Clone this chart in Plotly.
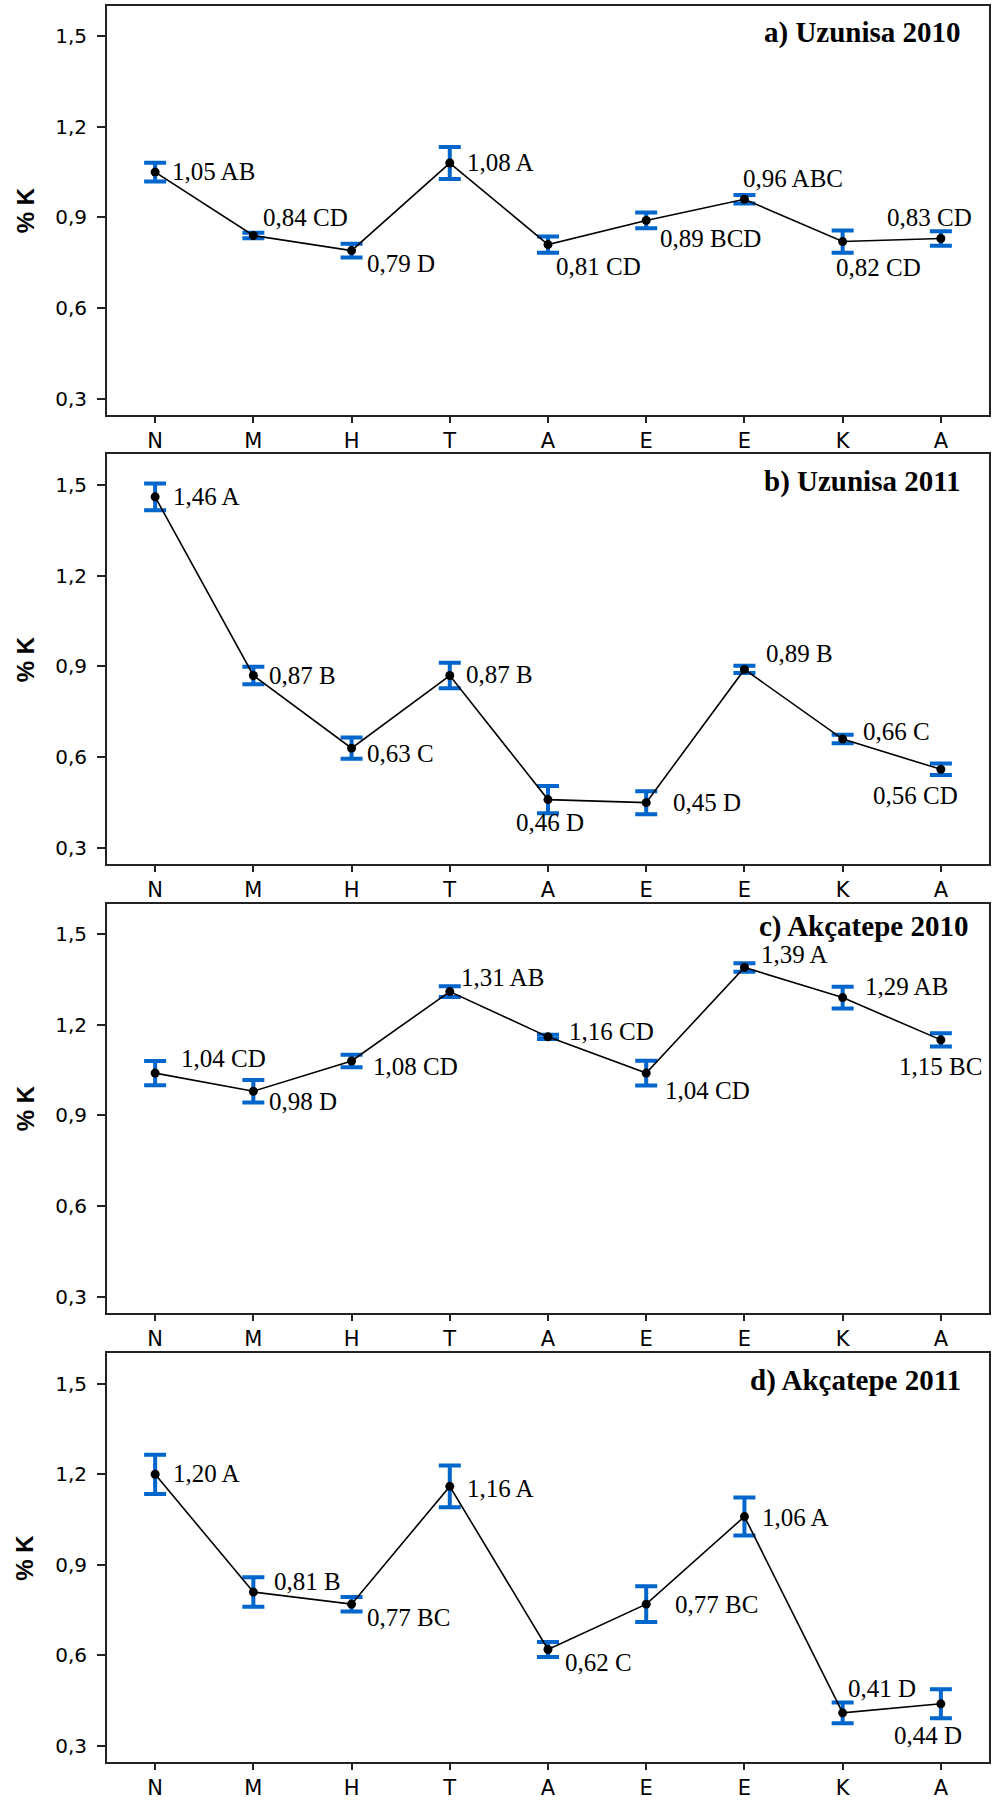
import plotly.graph_objects as go

# ---------------- data ----------------
months = ["N", "M", "H", "T", "A", "E", "E", "K", "A"]

means_a = [1.05, 0.84, 0.79, 1.08, 0.81, 0.89, 0.96, 0.82, 0.83]
err_a = [0.031, 0.009, 0.023, 0.053, 0.027, 0.026, 0.014, 0.037, 0.024]
groups_a = ["AB", "CD", "D", "A", "CD", "BCD", "ABC", "CD", "CD"]

means_b = [1.46, 0.87, 0.63, 0.87, 0.46, 0.45, 0.89, 0.66, 0.56]
err_b = [0.044, 0.029, 0.035, 0.042, 0.045, 0.038, 0.012, 0.014, 0.019]
groups_b = ["A", "B", "C", "B", "D", "D", "B", "C", "CD"]

means_c = [1.04, 0.98, 1.08, 1.31, 1.16, 1.04, 1.39, 1.29, 1.15]
err_c = [0.040, 0.037, 0.021, 0.018, 0.007, 0.041, 0.014, 0.036, 0.022]
groups_c = ["CD", "D", "CD", "AB", "CD", "CD", "A", "AB", "BC"]

means_d = [1.20, 0.81, 0.77, 1.16, 0.62, 0.77, 1.06, 0.41, 0.44]
err_d = [0.065, 0.049, 0.024, 0.069, 0.025, 0.059, 0.063, 0.034, 0.048]
groups_d = ["A", "B", "BC", "A", "C", "BC", "A", "D", "D"]

titles = ["a) Uzunisa 2010", "b) Uzunisa 2011", "c) Akçatepe 2010", "d) Akçatepe 2011"]
y_ticks = [0.3, 0.6, 0.9, 1.2, 1.5]
y_title = "% K"

# ---------------- layout / styling ----------------
W, H = 992, 1800
X_LEFT, X_RIGHT = 107, 989
panel_tops = [6, 456, 907, 1358]
panel_bottoms = [416, 867, 1317, 1768]
title_right = [963, 963, 970, 963]
title_dy = [27, 27, 23, 27]

# label offsets in pixels (dx right, dy down) from each point
label_offsets = [
    [(15, -1), (8, -18), (13, 13), (15, -1), (6, 22), (12, 18), (-3, -21), (-9, 26), (-56, -21)],
    [(16, 0), (14, 0), (13, 5), (14, -1), (-34, 23), (25, 0), (20, -16), (18, -8), (-70, 26)],
    [(24, -15), (14, 10), (19, 5), (9, -14), (19, -5), (17, 17), (15, -13), (20, -11), (-44, 27)],
    [(16, -1), (19, -11), (13, 13), (15, 2), (15, 13), (27, 0), (16, 1), (3, -24), (-49, 32)],
]

BLUE = "#0066CC"
panels = [
    (means_a, err_a, groups_a),
    (means_b, err_b, groups_b),
    (means_c, err_c, groups_c),
    (means_d, err_d, groups_d),
]

fig = go.Figure()
annotations = []
layout_axes = {}
xs = list(range(len(months)))

for i, (means, errs, groups) in enumerate(panels):
    n = "" if i == 0 else str(i + 1)
    xref, yref = "x" + n, "y" + n
    fig.add_trace(go.Scatter(
        x=xs, y=means, xaxis=xref, yaxis=yref, mode="lines+markers",
        line=dict(color="black", width=1.6),
        marker=dict(color="black", size=9),
        error_y=dict(type="data", array=errs, visible=True,
                     color=BLUE, thickness=4, width=11),
        showlegend=False, hoverinfo="skip",
    ))
    top, bot = panel_tops[i], panel_bottoms[i]
    layout_axes["xaxis" + n] = dict(
        domain=[X_LEFT / W, X_RIGHT / W], anchor=yref,
        range=[-0.49, 8.49], tickmode="array", tickvals=xs, ticktext=months,
        showline=True, linecolor="#222", linewidth=2, mirror=True,
        ticks="outside", ticklen=6, tickwidth=1.5, tickcolor="#222",
        showgrid=False, zeroline=False,
        tickfont=dict(family="DejaVu Sans", size=21, color="black"),
    )
    layout_axes["yaxis" + n] = dict(
        domain=[1 - bot / H, 1 - top / H], anchor=xref,
        range=[0.247, 1.6], tickmode="array", tickvals=y_ticks,
        ticktext=[f"{v:.1f}".replace(".", ",") for v in y_ticks],
        showline=True, linecolor="#222", linewidth=2, mirror=True,
        ticks="outside", ticklen=8, tickwidth=1.5, tickcolor="#222",
        ticklabelstandoff=6,
        showgrid=False, zeroline=False,
        tickfont=dict(family="DejaVu Sans", size=20, color="black"),
    )
    # point labels
    for j, (v, g) in enumerate(zip(means, groups)):
        dx, dy = label_offsets[i][j]
        annotations.append(dict(
            x=xs[j], y=v, xref=xref, yref=yref,
            text=f"{v:.2f}".replace(".", ",") + " " + g,
            showarrow=False, xanchor="left", yanchor="middle",
            xshift=dx, yshift=-dy,
            font=dict(family="Liberation Serif", size=25, color="black"),
        ))
    # panel title
    annotations.append(dict(
        x=title_right[i] / W, y=1 - (top + title_dy[i]) / H,
        xref="paper", yref="paper", text="<b>" + titles[i] + "</b>",
        showarrow=False, xanchor="right", yanchor="middle",
        font=dict(family="Liberation Serif", size=29, color="black"),
    ))
    # y-axis title
    annotations.append(dict(
        x=25 / W, y=1 - (top + bot) / 2 / H, xref="paper", yref="paper",
        text="<b>" + y_title + "</b>", textangle=-90, showarrow=False,
        xanchor="center", yanchor="middle",
        font=dict(family="Liberation Sans", size=24, color="black"),
    ))

fig.update_layout(
    width=W, height=H, margin=dict(l=0, r=0, t=0, b=0),
    paper_bgcolor="white", plot_bgcolor="white",
    annotations=annotations, **layout_axes,
)

fig.write_html("out.html")
